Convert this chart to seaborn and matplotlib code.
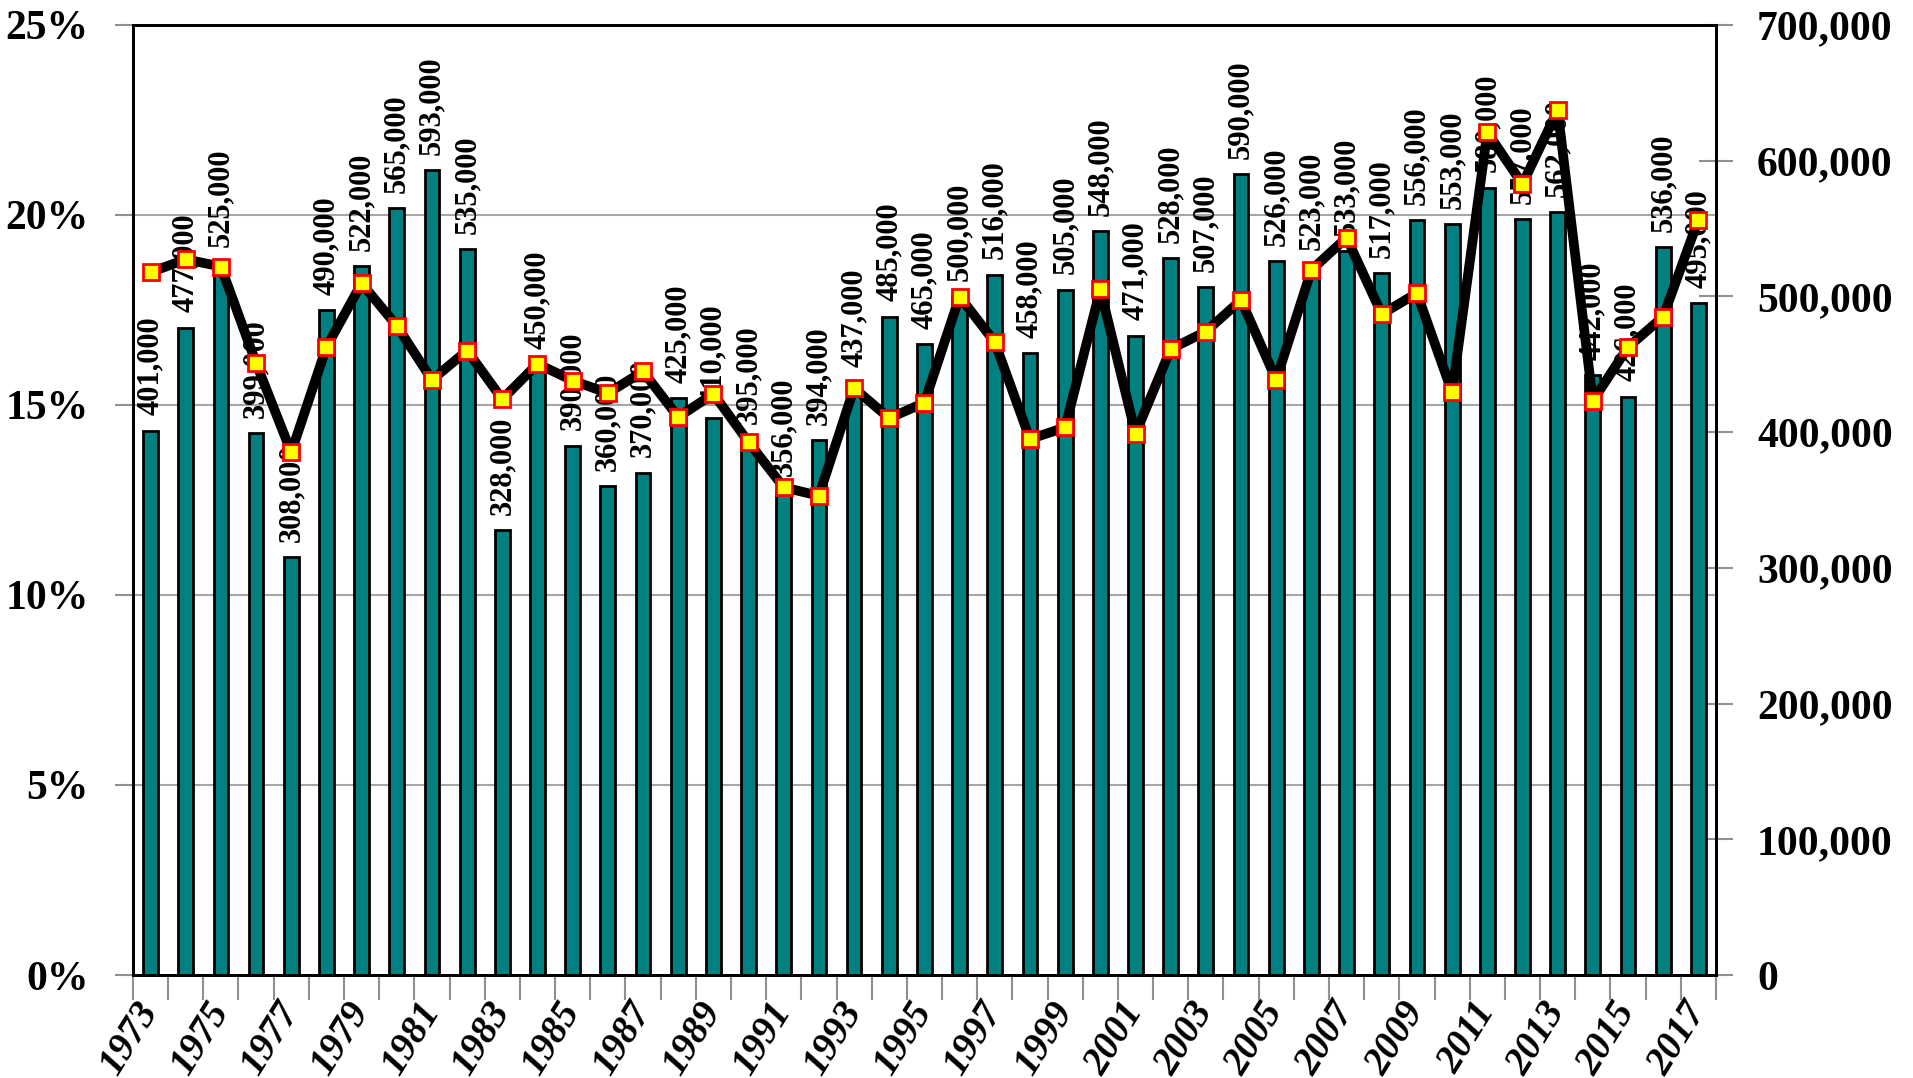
import numpy as np
import pandas as pd
import matplotlib
matplotlib.use('Agg')
import matplotlib.pyplot as plt
import matplotlib.transforms as mtransforms
from matplotlib.ticker import MultipleLocator, FixedLocator, FuncFormatter
import seaborn as sns

years = list(range(1973, 2018))
volume = [401000, 477000, 525000, 399000, 308000, 490000, 522000, 565000, 593000, 535000,
          328000, 450000, 390000, 360000, 370000, 425000, 410000, 395000, 356000, 394000,
          437000, 485000, 465000, 500000, 516000, 458000, 505000, 548000, 471000, 528000,
          507000, 590000, 526000, 523000, 533000, 517000, 556000, 553000, 580000, 557000,
          562000, 442000, 426000, 536000, 495000]
share = [18.49, 18.83, 18.64, 16.10, 13.75, 16.52, 18.20, 17.08, 15.66, 16.43,
         15.15, 16.08, 15.64, 15.31, 15.88, 14.68, 15.29, 14.02, 12.83, 12.61,
         15.44, 14.65, 15.06, 17.85, 16.65, 14.10, 14.41, 18.04, 14.24, 16.47,
         16.93, 17.76, 15.66, 18.55, 19.40, 17.39, 17.94, 15.33, 22.17, 20.81,
         22.75, 15.11, 16.52, 17.32, 19.87]

sns.set_theme(style='white')
plt.rcParams['font.family'] = 'serif'
plt.rcParams['font.serif'] = ['Liberation Serif', 'DejaVu Serif']
plt.rcParams['font.weight'] = 'bold'
plt.rcParams['text.color'] = 'black'
plt.rcParams['xtick.color'] = 'black'
plt.rcParams['ytick.color'] = 'black'

df = pd.DataFrame({'year': years, 'volume': volume, 'share': share})
df['pos'] = np.arange(len(df))

fig, ax = plt.subplots(figsize=(19.13, 10.78), dpi=100)
fig.subplots_adjust(left=0.0695, right=0.897, top=0.977, bottom=0.0955)

# bars -> right axis (volume)
sns.barplot(data=df, x='year', y='volume', color='#008080', edgecolor='black',
            linewidth=2, width=0.42, saturation=1, ax=ax)
ax.bar_label(ax.containers[0], labels=[f"{v:,}" for v in volume], rotation=90,
             padding=11, fontsize=22, fontweight='bold', color='black')

ax2 = ax.twinx()
ax.yaxis.tick_right()
ax.set_ylim(0, 700000)
ax.yaxis.set_major_locator(MultipleLocator(100000))
ax.yaxis.set_major_formatter(FuncFormatter(lambda v, p: f"{int(v):,}"))
ax.yaxis.set_minor_locator(MultipleLocator(140000))
ax.grid(False)
ax.grid(which='minor', axis='y', color='#a6a6a6', linewidth=1.5)
ax.tick_params(axis='y', which='major', direction='inout', length=25, width=1.5,
               color='#909090', labelsize=30, pad=17)
ax.tick_params(axis='y', which='minor', length=0)

# line -> left axis (share)
sns.lineplot(data=df, x='pos', y='share', color='black', linewidth=7, marker='s',
             markersize=11, markerfacecolor='yellow', markeredgecolor='red',
             markeredgewidth=2, ax=ax2, zorder=5)
ax2.yaxis.tick_left()
ax2.set_ylim(0, 25)
ax2.yaxis.set_major_locator(MultipleLocator(5))
ax2.yaxis.set_major_formatter(FuncFormatter(lambda v, p: f"{v:.0f}%"))
ax2.tick_params(axis='y', direction='out', length=13, width=1.5, color='#909090',
                labelsize=30, pad=19)
ax2.set_ylabel('')

# x axis
ax.set_xlim(-0.5, len(years) - 0.5)
ax.set_xticks(np.arange(0, len(years), 2))
ax.set_xticklabels([str(y) for y in years[::2]], rotation=58, ha='right', va='center',
                   rotation_mode='anchor', fontsize=28, fontstyle='italic',
                   fontweight='bold')
shift = mtransforms.ScaledTranslation(10 / 100, 6 / 100, fig.dpi_scale_trans)
for lbl in ax.get_xticklabels():
    lbl.set_transform(lbl.get_transform() + shift)
ax.xaxis.set_minor_locator(FixedLocator(np.arange(-0.5, len(years), 1)))
ax.tick_params(axis='x', which='major', length=0, pad=22)
ax.tick_params(axis='x', which='minor', direction='out', length=18, width=1.5,
               color='#909090', bottom=True)
ax.set_xlabel('')
ax.set_ylabel('')

for a in (ax, ax2):
    for s in a.spines.values():
        s.set_color('black')
        s.set_linewidth(2)

plt.savefig('out.png', dpi=100)
